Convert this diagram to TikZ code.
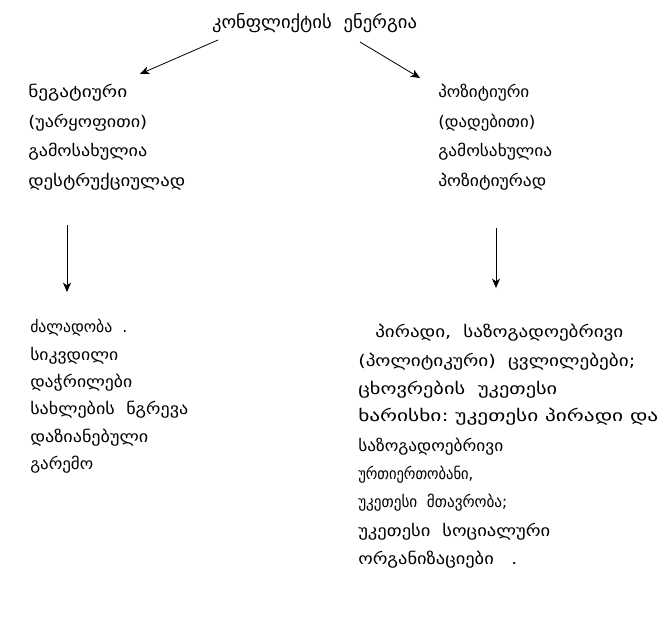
\documentclass[tikz,border=0pt]{standalone}
\usepackage{fontspec}
\usepackage{graphicx}
\setmainfont{DejaVu Sans}
\usetikzlibrary{arrows.meta,calc}
\newlength\pxu
\setlength\pxu{0.75pt}
\newcommand\fw[2]{\resizebox{#1\pxu}{\height}{#2}}
\tikzset{
  txt/.style={anchor=base west,inner sep=0pt,font=\fontsize{12}{14}\selectfont},
  ttl/.style={anchor=base,inner sep=0pt,font=\fontsize{13.5}{16}\selectfont},
  arr/.style={line width=0.6pt,-{Stealth[length=7pt,width=6pt,inset=2pt]}}
}
\begin{document}
\begin{tikzpicture}[x=0.75pt,y=-0.75pt]
\useasboundingbox[fill=white] (0,0) rectangle (663,618);
\node[ttl] (title) at (314.5,28) {\fw{205}{კონფლიქტის\ \ ენერგია}};
% top left block
\node[txt] (n1) at (28,97) {\fw{99}{ნეგატიური}};
\node[txt] (n2) at (28,127) {\fw{119}{(უარყოფითი)}};
\node[txt] (n3) at (28,156) {\fw{119}{გამოსახულია}};
\node[txt] (n4) at (28,186) {\fw{157}{დესტრუქციულად}};
% top right block
\node[txt] (p1) at (438,97) {\fw{91}{პოზიტიური}};
\node[txt] (p2) at (438,127) {\fw{97}{(დადებითი)}};
\node[txt] (p3) at (438,156) {\fw{114}{გამოსახულია}};
\node[txt] (p4) at (438,186) {\fw{108}{პოზიტიურად}};
% bottom left
\node[txt] (l1) at (30,332) {\fw{97}{ძალადობა\ \ .}};
\node[txt] (l2) at (30,360) {\fw{88}{სიკვდილი}};
\node[txt] (l3) at (30,387) {\fw{102}{დაჭრილები}};
\node[txt] (l4) at (30,414) {\fw{158}{სახლების\ \ ნგრევა}};
\node[txt] (l5) at (30,442) {\fw{118}{დაზიანებული}};
\node[txt] (l6) at (30,469) {\fw{63}{გარემო}};
% bottom right
\node[txt] (r1) at (375,337) {\fw{248}{პირადი,\ \ საზოგადოებრივი}};
\node[txt] (r2) at (358,366) {\fw{277}{(პოლიტიკური)\ \ ცვლილებები;}};
\node[txt] (r3) at (358,394) {\fw{199}{ცხოვრების\ \ უკეთესი}};
\node[txt] (r4) at (358,421) {\fw{300}{ხარისხი:\ უკეთესი\ პირადი\ და}};
\node[txt] (r5) at (358,451) {\fw{145}{საზოგადოებრივი}};
\node[txt] (r6) at (358,479) {\fw{115}{ურთიერთობანი,}};
\node[txt] (r7) at (358,507) {\fw{149}{უკეთესი\ \ მთავრობა;}};
\node[txt] (r8) at (358,536) {\fw{192}{უკეთესი\ \ სოციალური}};
\node[txt] (r9) at (358,564) {\fw{159}{ორგანიზაციები\ \ \ .}};
% arrows
\draw[arr] ($(title.base)+(-96.5,12)$) -- ($(n1.base west)+(112,-23)$);
\draw[arr] ($(title.base)+(45.5,14)$) -- ($(p1.base west)+(-18,-19)$);
\draw[arr] ($(n4.base west)+(39,39)$) -- ($(l1.base west)+(37,-40)$);
\draw[arr] ($(p4.base west)+(58,42)$) -- ($(r1.base west)+(121,-49)$);
\end{tikzpicture}
\end{document}
